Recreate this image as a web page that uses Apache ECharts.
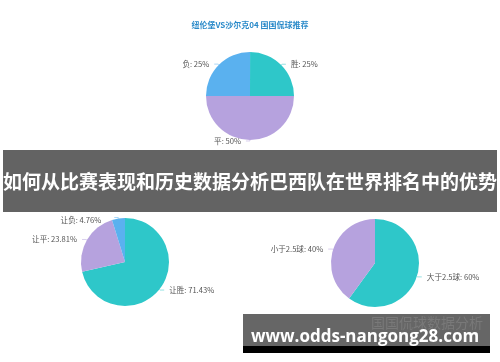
<!DOCTYPE html>
<html><head><meta charset="utf-8">
<script src="https://cdn.jsdelivr.net/npm/echarts@6/dist/echarts.min.js"></script>
<style>html,body{margin:0;padding:0;background:#fff}#c{width:500px;height:362px}</style>
</head><body><div id="c"></div>
<script>
const chartTitle = '纽伦堡VS沙尔克04 国国侃球推荐';
const resultNames = ['胜', '平', '负'];
const resultValues = [25, 50, 25];
const handicapNames = ['让胜', '让平', '让负'];
const handicapValues = [71.43, 23.81, 4.76];
const goalsNames = ['大于2.5球', '小于2.5球'];
const goalsValues = [60, 40];
const bannerText = '如何从比赛表现和历史数据分析巴西队在世界排名中的优势';
const siteText = 'www.odds-nangong28.com';
const watermarkText = '国国侃球数据分析';

const colorMap = {'胜':'#2ec7c9','平':'#b6a2de','负':'#5ab1ef','让胜':'#2ec7c9','让平':'#b6a2de','让负':'#5ab1ef','大于2.5球':'#2ec7c9','小于2.5球':'#b6a2de'};
const font = '"Noto Sans CJK SC", "Noto Sans", sans-serif';
function mk(names, vals){ return names.map((n,i)=>({name:n, value:vals[i], itemStyle:{color:colorMap[n]}})); }
function pie(center, data, extra){
  return Object.assign({
    type:'pie', radius:44, center:center, startAngle:90, clockwise:true,
    data:data, animation:false,
    label:{formatter:'{b}: {d}%', fontSize:7.6, color:'#555', fontFamily:font, overflow:'none'},
    labelLine:{length:1, length2:4, lineStyle:{width:1, opacity:0.5}},
    emphasis:{disabled:true}
  }, extra||{});
}
const chart = echarts.init(document.getElementById('c'), null, {renderer:'canvas'});
chart.setOption({
  backgroundColor:'#fff',
  title:{text:chartTitle, left:'center', top:16, textStyle:{fontSize:8, fontWeight:'bold', color:'#2a8ac9', fontFamily:font}},
  series:[
    pie(['50%', 96], mk(resultNames, resultValues), {startAngle:89.9}),
    pie([125, 262], mk(handicapNames, handicapValues), {labelLayout:function(p){ return p.dataIndex===2 ? {dy:3, dx:-8} : {}; }}),
    pie([375, 263], mk(goalsNames, goalsValues))
  ],
  graphic:[
    {type:'rect', shape:{x:3,y:150,width:494,height:62}, style:{fill:'#636363'}, z:100},
    {type:'text', x:250, y:182, z:101, style:{text:bannerText, fill:'#fff', font:'bold 19px '+font, textAlign:'center', textVerticalAlign:'middle'}},
    {type:'rect', shape:{x:243,y:314,width:247,height:33}, style:{fill:'#666'}, z:100},
    {type:'rect', shape:{x:243,y:346,width:247,height:7}, style:{fill:'#000'}, z:100},
    {type:'text', x:483, y:323, z:101, style:{text:watermarkText, fill:'#797979', font:'14px '+font, textAlign:'right', textVerticalAlign:'middle'}},
    {type:'text', x:365, y:337, z:102, style:{text:siteText, fill:'#fff', font:'bold 17px "Open Sans", "DejaVu Sans", sans-serif', textAlign:'center', textVerticalAlign:'middle'}}
  ]
});
</script></body></html>
